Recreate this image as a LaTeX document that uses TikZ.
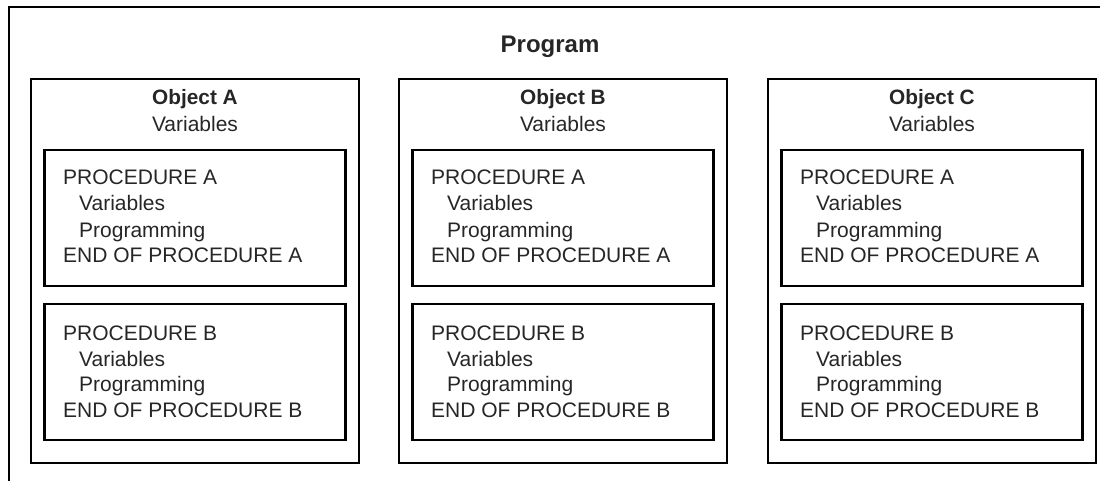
\documentclass[tikz,border=0pt]{standalone}
\usepackage{fontspec}
\setmainfont{Liberation Sans}
\begin{document}
\begin{tikzpicture}[x=1pt,y=-1pt,
  frame/.style={line width=2.4pt, line cap=rect},
  objbox/.style={draw, line width=2.2pt, anchor=north west, inner sep=0pt, outer sep=0pt,
    minimum width=328pt, minimum height=384pt},
  procbox/.style={draw, line width=2.2pt, anchor=north west, inner sep=0pt, outer sep=0pt,
    minimum width=301pt, minimum height=136pt},
  txt/.style={inner sep=0pt, font=\fontsize{21pt}{24pt}\selectfont, text=black!85},
  boldtxt/.style={inner sep=0pt, font=\fontsize{20.8pt}{24pt}\selectfont\bfseries, text=black!85},
  progtxt/.style={inner sep=0pt, font=\fontsize{24pt}{28pt}\selectfont\bfseries, text=black!85}]
\useasboundingbox (0,0) rectangle (1100,481);
% outer program frame (open on right and bottom)
\coordinate (pTR) at (1100,7);
\coordinate (pTL) at (9,7);
\coordinate (pBL) at (9,481);
\draw[frame] (pTR) -- (pTL) -- (pBL);
\node[progtxt, anchor=base] (prog) at (550,53) {Program};
\foreach \x/\L in {31/A,399/B,768/C} {
  \node[objbox] (obj\L) at (\x,79) {};
  \node[boldtxt, anchor=base] (title\L) at (\x+164,105) {Object \L};
  \node[txt, anchor=base] (var\L) at (\x+164,132) {Variables};
  \node[procbox] (pa\L) at (\x+13.5,150) {};
  \node[procbox] (pb\L) at (\x+13.5,304) {};
  \node[txt, anchor=base west] (pa1\L) at (\x+32,185) {PROCEDURE A};
  \node[txt, anchor=base west] (pa2\L) at (\x+48,211) {Variables};
  \node[txt, anchor=base west] (pa3\L) at (\x+48,237) {Programming};
  \node[txt, anchor=base west] (pa4\L) at (\x+32,262) {END OF PROCEDURE A};
  \node[txt, anchor=base west] (pb1\L) at (\x+32,340) {PROCEDURE B};
  \node[txt, anchor=base west] (pb2\L) at (\x+48,366) {Variables};
  \node[txt, anchor=base west] (pb3\L) at (\x+48,391) {Programming};
  \node[txt, anchor=base west] (pb4\L) at (\x+32,417) {END OF PROCEDURE B};
}
\end{tikzpicture}
\end{document}
